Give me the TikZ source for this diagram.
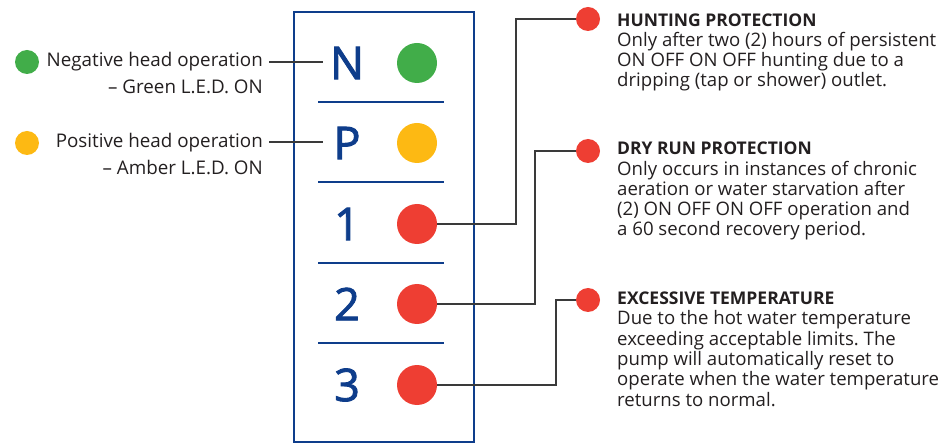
\documentclass[tikz,border=0pt]{standalone}
\usepackage{fontspec}
\setmainfont{Open Sans}
\newfontfamily\letterfont[FakeBold=2]{Open Sans}
\frenchspacing
\definecolor{ledgreen}{HTML}{41AD49}
\definecolor{ledamber}{HTML}{FDB913}
\definecolor{ledred}{HTML}{EE3E33}
\definecolor{panelblue}{HTML}{0E3D8B}
\definecolor{txt}{HTML}{231F20}
\definecolor{wire}{HTML}{3A3A3A}
\newcommand{\headfont}{\fontsize{17.5}{20.3}\selectfont\bfseries}
\begin{document}
\begin{tikzpicture}[x=1pt,y=-1pt,
  letter/.style={text=panelblue, font=\letterfont\fontsize{45}{45}\selectfont, inner sep=0pt},
  led/.style={circle, inner sep=0pt, minimum size=40pt, draw=none},
  dot/.style={circle, inner sep=0pt, minimum size=24pt, draw=none},
  sep/.style={draw=panelblue, line width=2.5pt},
  wire/.style={draw=wire, line width=1.3pt},
  lefttxt/.style={text=txt, align=right, inner sep=0pt, font=\fontsize{18.8}{27}\selectfont},
  righttxt/.style={text=txt, align=left, inner sep=0pt, font=\fontsize{18.6}{20.3}\selectfont}]
\useasboundingbox (0,0) rectangle (947,443);
% panel
\draw[panelblue, line width=2pt] (294,12) rectangle (474,442);
\foreach \yy in {102,182,263,343} \draw[sep] (318,\yy) -- (444,\yy);
% letters
\node[letter] (N) at (347,63) {N};
\node[letter] (P) at (347,143) {P};
\node[letter] (L1) at (347,224) {1};
\node[letter] (L2) at (347,304) {2};
\node[letter] (L3) at (347,385) {3};
% LEDs
\node[led, fill=ledgreen] (ledN) at (417,63) {};
\node[led, fill=ledamber] (ledP) at (417,143) {};
\node[led, fill=ledred] (led1) at (417,224) {};
\node[led, fill=ledred] (led2) at (417,304) {};
\node[led, fill=ledred] (led3) at (417,385) {};
% left legend
\node[dot, fill=ledgreen] (gdot) at (27,62) {};
\node[dot, fill=ledamber] (adot) at (27,143) {};
\node[lefttxt, anchor=base east] (neg) at (263,94) {Negative head operation\\– Green L.E.D. ON};
\node[lefttxt, anchor=base east] (pos) at (263,175) {Positive head operation\\– Amber L.E.D. ON};
\coordinate (negw) at (269,62);
\coordinate (posw) at (269,142);
\coordinate (Nleft) at (323,0);
\draw[wire] (negw) -- (negw -| Nleft);
\draw[wire] (posw) -- (posw -| Nleft);
% right dots
\node[dot, fill=ledred] (hp) at (588,19) {};
\node[dot, fill=ledred] (dr) at (588,151) {};
\node[dot, fill=ledred] (et) at (588,300) {};
\coordinate (k1) at (516,0);
\coordinate (k2) at (535,0);
\coordinate (k3) at (556,0);
\draw[wire] (led1.east) -- (led1.east -| k1) -- (k1 |- hp) -- (hp.west);
\draw[wire] (led2.east) -- (led2.east -| k2) -- (k2 |- dr) -- (dr.west);
\draw[wire] (led3.east) -- (led3.east -| k3) -- (k3 |- et) -- (et.west);
% right texts (base anchor = last line baseline)
\node[righttxt, anchor=base west] (hpt) at (617,87) {{\headfont HUNTING PROTECTION}\\Only after two (2) hours of persistent\\ON OFF ON OFF hunting due to a\\dripping (tap or shower) outlet.};
\node[righttxt, anchor=base west] (drt) at (617,236) {{\headfont DRY RUN PROTECTION}\\Only occurs in instances of chronic\\aeration or water starvation after\\(2) ON OFF ON OFF operation and\\a 60 second recovery period.};
\node[righttxt, anchor=base west] (ett) at (617,406) {{\headfont EXCESSIVE TEMPERATURE}\\Due to the hot water temperature\\exceeding acceptable limits. The\\pump will automatically reset to\\operate when the water temperature\\returns to normal.};
\end{tikzpicture}
\end{document}
